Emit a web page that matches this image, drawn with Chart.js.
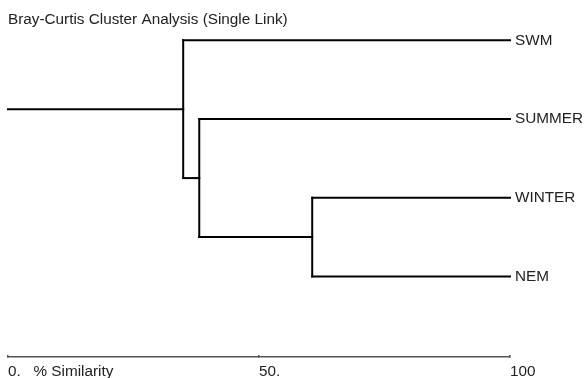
<!DOCTYPE html>
<html>
<head>
<meta charset="utf-8">
<script src="https://cdn.jsdelivr.net/npm/chart.js@4/dist/chart.umd.min.js"></script>
<style>
  html, body { margin: 0; padding: 0; background: #fff; }
  #wrap { width: 584px; height: 378px; }
</style>
</head>
<body>
<div id="wrap"><canvas id="dendro" width="584" height="378"></canvas></div>
<script>
// leaves, top to bottom
const leaves = ['SWM', 'SUMMER', 'WINTER', 'NEM'];
// merges: [childA, childB, % similarity]; index >= leaves.length = earlier merge
const merges = [
    [2, 3, 60.6],
    [1, 4, 38.1],
    [0, 5, 34.9],
];
const xTicks = [0, 50, 100];
const xTickLabels = ['0.   % Similarity', '50.', '100'];

// =====================
// BUILD SEGMENTS
// =====================
function buildSegments() {
    const nodes = leaves.map((name, i) => ({ x: 100, y: i }));
    const segs = [];
    merges.forEach(m => {
        const a = nodes[m[0]], b = nodes[m[1]], s = m[2];
        segs.push([{ x: s, y: a.y }, { x: a.x, y: a.y }]);
        segs.push([{ x: s, y: b.y }, { x: b.x, y: b.y }]);
        segs.push([{ x: s, y: a.y }, { x: s, y: b.y }]);
        nodes.push({ x: s, y: (a.y + b.y) / 2 });
    });
    const root = nodes[nodes.length - 1];
    segs.push([{ x: 0, y: root.y }, { x: root.x, y: root.y }]);
    return segs;
}

const fontSize = 15.3;
Chart.defaults.font.family = '"Liberation Sans", Arial, sans-serif';
Chart.defaults.color = '#222';

const datasets = buildSegments().map(seg => ({
    data: seg,
    showLine: true,
    borderColor: '#000',
    borderWidth: 2,
    pointRadius: 0,
    clip: false,
    borderCapStyle: 'square',
}));

new Chart(document.getElementById('dendro'), {
    type: 'scatter',
    data: { datasets: datasets },
    options: {
        responsive: false,
        animation: false,
        layout: { padding: { left: 8, right: 0, top: 0, bottom: 0 } },
        plugins: {
            legend: { display: false },
            tooltip: { enabled: false },
            title: {
                display: true,
                text: 'Bray-Curtis Cluster Analysis (Single Link)',
                align: 'start',
                color: '#222',
                font: { size: fontSize, weight: 'normal' },
                padding: { top: 11, bottom: 5 },
            },
        },
        scales: {
            x: {
                type: 'linear',
                position: 'bottom',
                min: 0,
                max: 100,
                afterBuildTicks: s => { s.ticks = xTicks.map(v => ({ value: v })); },
                afterFit: s => { s.height = 21; },
                ticks: {
                    align: 'start',
                    padding: 8,
                    maxRotation: 0,
                    autoSkip: false,
                    font: { size: fontSize },
                    color: '#222',
                    callback: (v, i) => xTickLabels[i],
                },
                grid: {
                    drawOnChartArea: false,
                    drawTicks: true,
                    tickLength: -2,
                    color: '#555',
                    lineWidth: 1.5,
                },
                border: { display: true, color: '#555', width: 1.5 },
            },
            y: {
                type: 'linear',
                position: 'right',
                reverse: true,
                min: -0.076,
                max: 4.023,
                afterBuildTicks: s => { s.ticks = leaves.map((n, i) => ({ value: i })); },
                afterFit: s => { s.width = 74; },
                ticks: {
                    padding: 5,
                    autoSkip: false,
                    font: { size: fontSize },
                    color: '#222',
                    callback: (v, i) => leaves[i],
                },
                grid: { display: false, drawTicks: false },
                border: { display: false },
            },
        },
    },
});
</script>
</body>
</html>
